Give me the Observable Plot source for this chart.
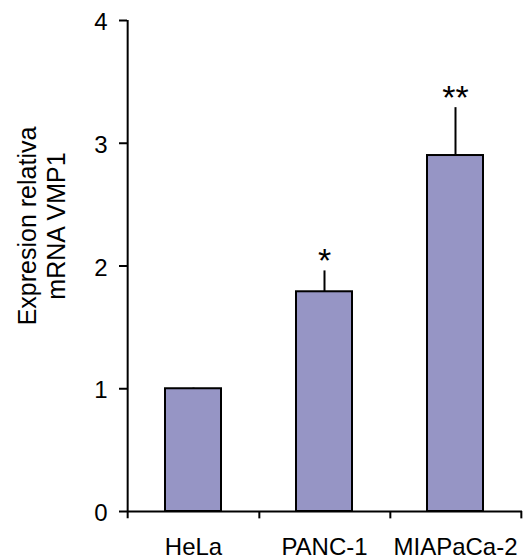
<!DOCTYPE html>
<html><head><meta charset="utf-8">
<script src="https://cdn.jsdelivr.net/npm/d3@7"></script>
<script src="https://cdn.jsdelivr.net/npm/@observablehq/plot@0.6"></script>
<style>body{margin:0;background:#fff} svg{display:block}</style>
</head><body><div id="chart"></div>
<script>
const categories = ["HeLa", "PANC-1", "MIAPaCa-2"];
const values = [1.0, 1.79, 2.9];
const errors = [0.005, 0.17, 0.39];
const signif = ["", "*", "**"];
const yTicks = [0, 1, 2, 3, 4];
const yTitle = ["Expresion relativa", "mRNA VMP1"];

const data = categories.map((c, i) => ({cat: c, v: values[i], e: errors[i], s: signif[i]}));

const W = 529, H = 559, ML = 127, MR = 7, MT = 20, MB = 48;
const half = (W - ML - MR) / categories.length / 2;
const font = "'Liberation Sans', Arial, sans-serif";

const chart = Plot.plot({
  width: W, height: H,
  marginLeft: ML, marginRight: MR, marginTop: MT, marginBottom: MB,
  style: {fontFamily: font, fontSize: "24px", color: "#000", background: "#fff"},
  x: {domain: categories, paddingInner: 0.57, paddingOuter: 0.285, axis: null},
  y: {domain: [0, 4], axis: null},
  marks: [
    Plot.barY(data, {x: "cat", y: "v", fill: "#9695C5", stroke: "#000", strokeWidth: 2}),
    Plot.ruleX(data, {x: "cat", y1: "v", y2: d => d.v + d.e, stroke: "#000", strokeWidth: 2}),
    Plot.ruleY(data, {x: "cat", y: d => d.v + d.e, insetLeft: 22.5, insetRight: 22.5, stroke: "#000", strokeWidth: 2}),
    Plot.text(data, {x: "cat", y: d => d.v + d.e, text: "s", dy: -10, lineAnchor: "middle", fontSize: 34, letterSpacing: 2, fill: "#000"}),
    Plot.ruleY([0], {stroke: "#000", strokeWidth: 2}),
    Plot.ruleX(categories.slice(0, 1), {x: d => d, dx: -half, y1: -0.06, y2: 4, stroke: "#000", strokeWidth: 2}),
    Plot.ruleX(categories, {x: d => d, dx: half, y1: -0.06, y2: 0, stroke: "#000", strokeWidth: 2}),
    Plot.axisY(yTicks, {tickSize: 8, strokeWidth: 2, text: null, label: null}),
    Plot.axisY(yTicks, {tickSize: 0, tickPadding: 20, fontSize: 24, tickFormat: d => String(d), label: null, textStroke: "none", dy: 2}),
    Plot.axisX({tickSize: 0, tickPadding: 26, fontSize: 24, label: null}),
    Plot.text([yTitle.join("\n")], {frameAnchor: "left", textAnchor: "middle", rotate: -90, dx: -86, dy: -40, lineAnchor: "middle", lineHeight: 1.15, fontSize: 25, fill: "#000"})
  ]
});
document.getElementById("chart").appendChild(chart);
</script>
</body></html>
